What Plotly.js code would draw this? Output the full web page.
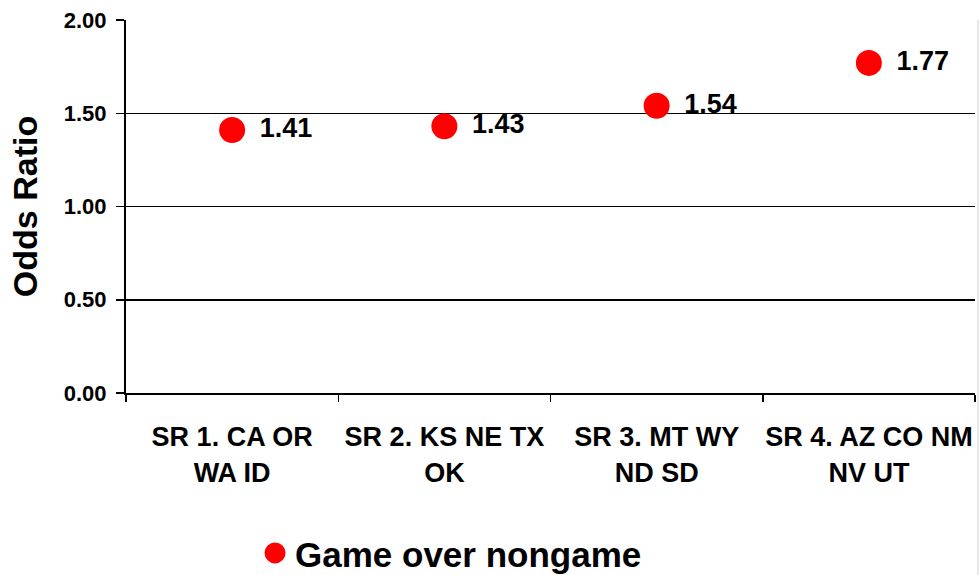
<!DOCTYPE html>
<html>
<head>
<meta charset="utf-8">
<script src="https://cdn.plot.ly/plotly-3.0.1.min.js"></script>
<style>html,body{margin:0;padding:0;background:#fff;}</style>
</head>
<body>
<div id="chart" style="width:979px;height:575px;"></div>
<script>
const categories = ["SR 1. CA OR<br>WA ID", "SR 2. KS NE TX<br>OK", "SR 3. MT WY<br>ND SD", "SR 4. AZ CO NM<br>NV UT"];
const oddsRatio = [1.41, 1.43, 1.54, 1.77];
const labels = ["1.41", "1.43", "1.54", "1.77"];
const seriesName = "Game over nongame";
const yTicks = [0, 0.5, 1, 1.5, 2];
const yTickText = ["0.00", "0.50", "1.00", "1.50", "2.00"];

const font = "Liberation Sans, Arial, sans-serif";

const trace = {
  type: "scatter",
  mode: "markers+text",
  x: categories,
  y: oddsRatio,
  text: labels,
  texttemplate: "\u2002%{text}",
  textposition: "middle right",
  textfont: {family: font, size: 27, color: "#000", weight: "bold"},
  marker: {color: "#ff0000", size: 21, line: {color: "#ff0000", width: 5}},
  name: seriesName,
  showlegend: true,
  cliponaxis: false
};

const layout = {
  width: 979, height: 575,
  margin: {l: 126, r: 4, t: 20, b: 182},
  paper_bgcolor: "#fff",
  plot_bgcolor: "#fff",
  font: {family: font, color: "#000"},
  xaxis: {
    type: "category",
    range: [-0.5, 3.5],
    autorange: false,
    tickson: "boundaries",
    ticks: "outside",
    ticklen: 7,
    tickwidth: 1.5,
    tickcolor: "#000",
    tickangle: 0,
    showline: true,
    linecolor: "#000",
    linewidth: 2,
    showgrid: false,
    zeroline: false,
    automargin: false,
    ticklabelstandoff: 19,
    tickfont: {family: font, size: 27, weight: "bold", color: "#000"},
    fixedrange: true
  },
  yaxis: {
    range: [0, 2],
    autorange: false,
    tickvals: yTicks,
    ticktext: yTickText,
    ticks: "outside",
    ticklen: 8,
    tickwidth: 1.5,
    tickcolor: "#000",
    showline: true,
    linecolor: "#000",
    linewidth: 2,
    showgrid: true,
    gridcolor: "#000",
    gridwidth: 1.5,
    zeroline: false,
    automargin: false,
    ticklabelstandoff: 5,
    tickfont: {family: font, size: 22, weight: "bold", color: "#000"},
    title: {text: "Odds Ratio", font: {family: font, size: 34, weight: "bold", color: "#000"}, standoff: 16},
    fixedrange: true
  },
  legend: {
    orientation: "h",
    xref: "container", yref: "container",
    x: 0.2605, xanchor: "left",
    y: 0.038, yanchor: "middle",
    font: {family: font, size: 35, weight: "bold", color: "#000"},
    bgcolor: "rgba(0,0,0,0)"
  },
  shapes: [{
    type: "line", xref: "paper", yref: "paper",
    x0: 1.0035, x1: 1.0035, y0: 1, y1: -0.5,
    line: {color: "#d0d0d0", width: 1}
  }]
};

Plotly.newPlot("chart", [trace], layout, {displayModeBar: false, staticPlot: true});
</script>
</body>
</html>
